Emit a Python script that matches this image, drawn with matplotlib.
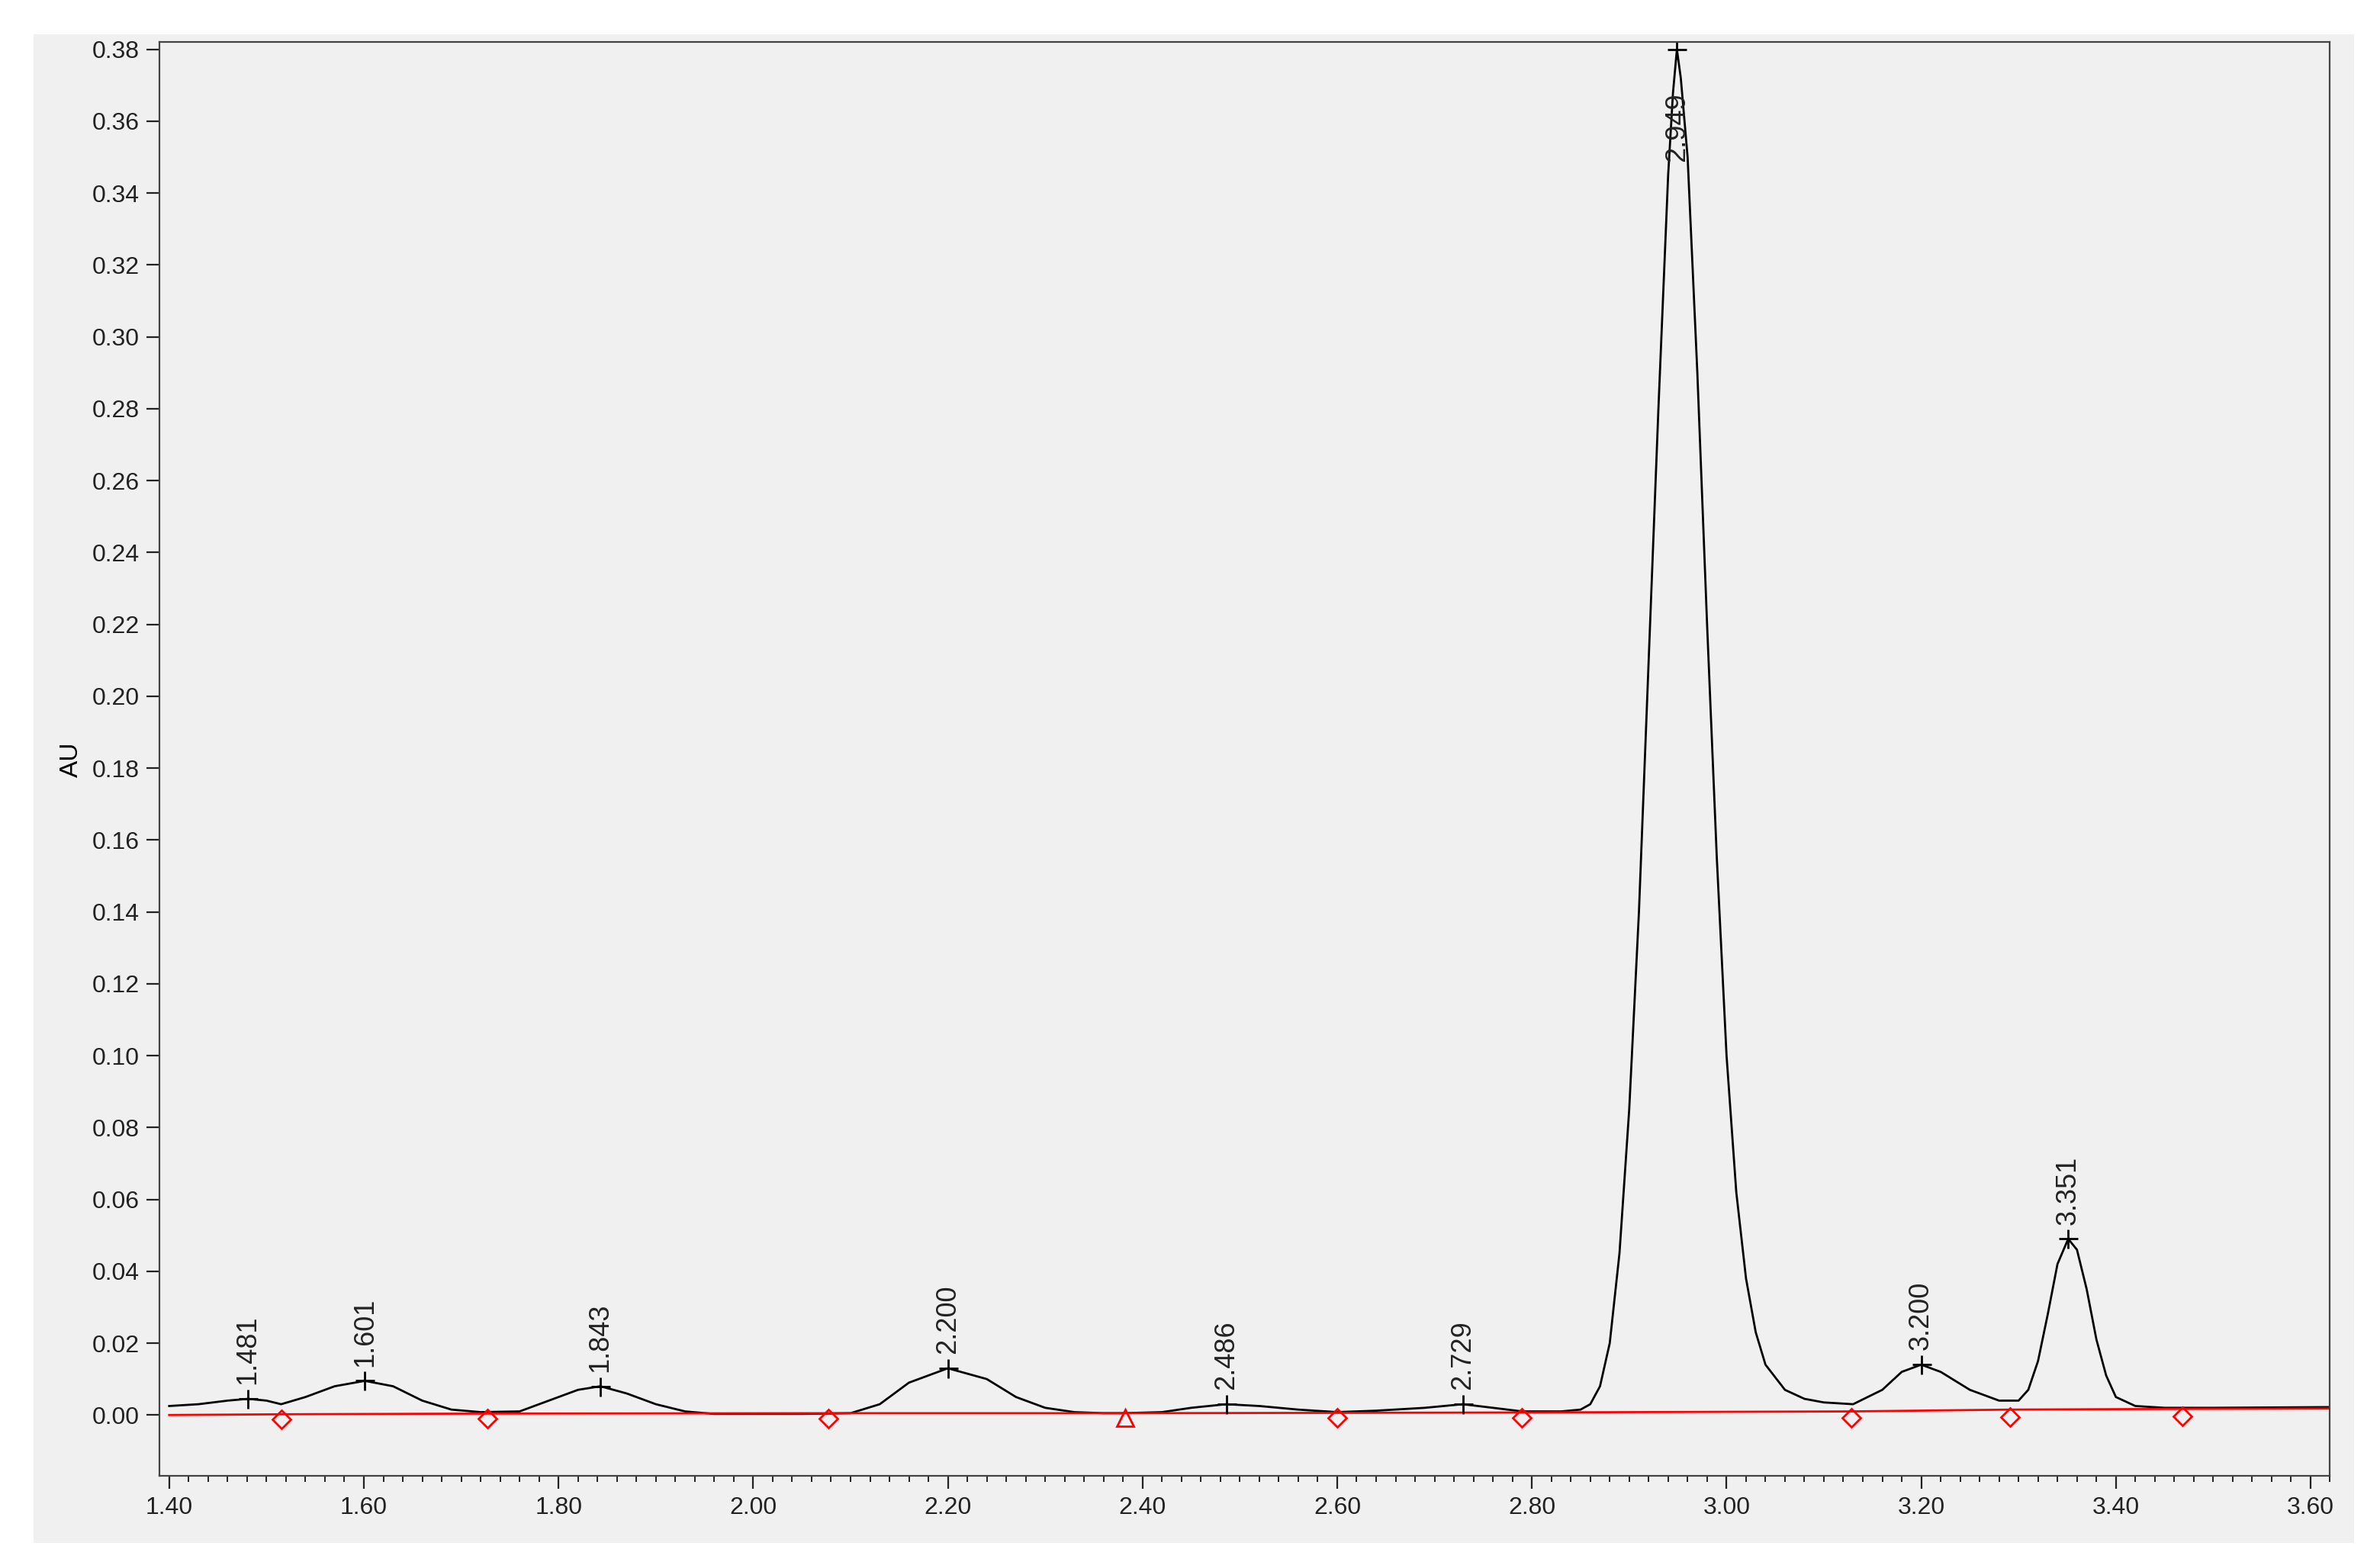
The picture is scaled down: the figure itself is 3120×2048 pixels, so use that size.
import matplotlib
matplotlib.use("Agg")
import matplotlib.pyplot as plt
from matplotlib.patches import Rectangle

# trace points (time, AU)
t = [1.40,1.43,1.46,1.481,1.50,1.515,1.54,1.57,1.601,1.63,1.66,1.69,1.72,1.76,1.79,1.82,1.843,1.87,1.90,1.93,1.96,2.00,2.05,2.10,2.13,2.16,2.20,2.24,2.27,2.30,2.33,2.36,2.38,2.42,2.45,2.486,2.52,2.56,2.60,2.64,2.69,2.729,2.76,2.79,2.83,2.85,2.86,2.87,2.88,2.89,2.90,2.91,2.92,2.93,2.94,2.945,2.949,2.953,2.96,2.97,2.98,2.99,3.00,3.01,3.02,3.03,3.04,3.06,3.08,3.10,3.13,3.16,3.18,3.20,3.22,3.25,3.28,3.30,3.31,3.32,3.33,3.34,3.351,3.36,3.37,3.38,3.39,3.40,3.42,3.45,3.50,3.62]
au = [0.0025,0.003,0.004,0.0045,0.004,0.003,0.005,0.008,0.0095,0.008,0.004,0.0015,0.0008,0.001,0.004,0.007,0.008,0.006,0.003,0.001,0.0003,0.0003,0.0003,0.0005,0.003,0.009,0.013,0.010,0.005,0.002,0.0008,0.0005,0.0005,0.0008,0.002,0.003,0.0025,0.0015,0.0008,0.0012,0.002,0.003,0.002,0.001,0.001,0.0015,0.003,0.008,0.02,0.045,0.085,0.14,0.21,0.28,0.345,0.368,0.38,0.372,0.35,0.29,0.22,0.155,0.10,0.062,0.038,0.023,0.014,0.007,0.0045,0.0035,0.003,0.007,0.012,0.014,0.012,0.007,0.004,0.004,0.007,0.015,0.028,0.042,0.049,0.046,0.035,0.021,0.011,0.005,0.0025,0.002,0.002,0.0022]

peak_rt = [1.481,1.601,1.843,2.200,2.486,2.729,2.949,3.200,3.351]
peak_h = [0.0045,0.0095,0.008,0.013,0.003,0.003,0.38,0.014,0.049]
peak_lbl = ["1.481","1.601","1.843","2.200","2.486","2.729","2.949","3.200","3.351"]

base_x = [1.40,1.515,1.727,2.077,2.382,2.600,2.790,3.128,3.291,3.468,3.62]
base_y = [0.0000,0.0002,0.0004,0.0005,0.0005,0.0006,0.0007,0.0010,0.0015,0.0017,0.0018]
diamond_x = [1.515,1.727,2.077,2.600,2.790,3.128,3.291,3.468]
diamond_y = [-0.0012,-0.001,-0.001,-0.0008,-0.0007,-0.0007,-0.0005,-0.0003]
tri_x = [2.382]; tri_y = [-0.0008]

plt.rcParams['font.family'] = ['Liberation Sans', 'DejaVu Sans']
fig = plt.figure(figsize=(15.6, 10.24), dpi=200)
fig.patch.set_facecolor('white')
fig.add_artist(Rectangle((0.014, 0.012), 0.975, 0.966, transform=fig.transFigure,
                         facecolor='#f0f0f0', edgecolor='none', zorder=0))
ax = fig.add_axes([0.067, 0.055, 0.912, 0.918])
ax.set_facecolor('#f0f0f0')
ax.plot(t, au, color='black', lw=1.0)
ax.plot(base_x, base_y, color='red', lw=1.0)
ax.plot(diamond_x, diamond_y, 'D', ms=6, mfc='none', mec='red', mew=1.0, linestyle='none')
ax.plot(tri_x, tri_y, '^', ms=8, mfc='none', mec='red', mew=1.0, linestyle='none')
ax.plot(peak_rt, peak_h, '+', color='black', ms=9, mew=1.0, linestyle='none')
for x, h, s in zip(peak_rt, peak_h, peak_lbl):
    if h > 0.3:
        ax.text(x, h - 0.012, s, rotation=90, ha='center', va='top', fontsize=13, color='#222')
    else:
        ax.text(x, h + 0.004, s, rotation=90, ha='center', va='bottom', fontsize=13, color='#222')
ax.set_xlim(1.39, 3.62)
ax.set_ylim(-0.017, 0.382)
ax.set_xticks([1.40+0.2*i for i in range(12)])
ax.set_xticklabels([f"{1.40+0.2*i:.2f}" for i in range(12)])
ax.set_yticks([0.02*i for i in range(20)])
ax.set_yticklabels([f"{0.02*i:.2f}" for i in range(20)])
ax.set_xticks([1.40+0.02*i for i in range(112)], minor=True)
ax.tick_params(labelsize=11.5, colors='#222', length=6)
ax.tick_params(which='minor', length=3)
ax.set_ylabel("AU", fontsize=12)
for sp in ax.spines.values():
    sp.set_color('#444')
fig.savefig("out.png", dpi=200, facecolor='white')
